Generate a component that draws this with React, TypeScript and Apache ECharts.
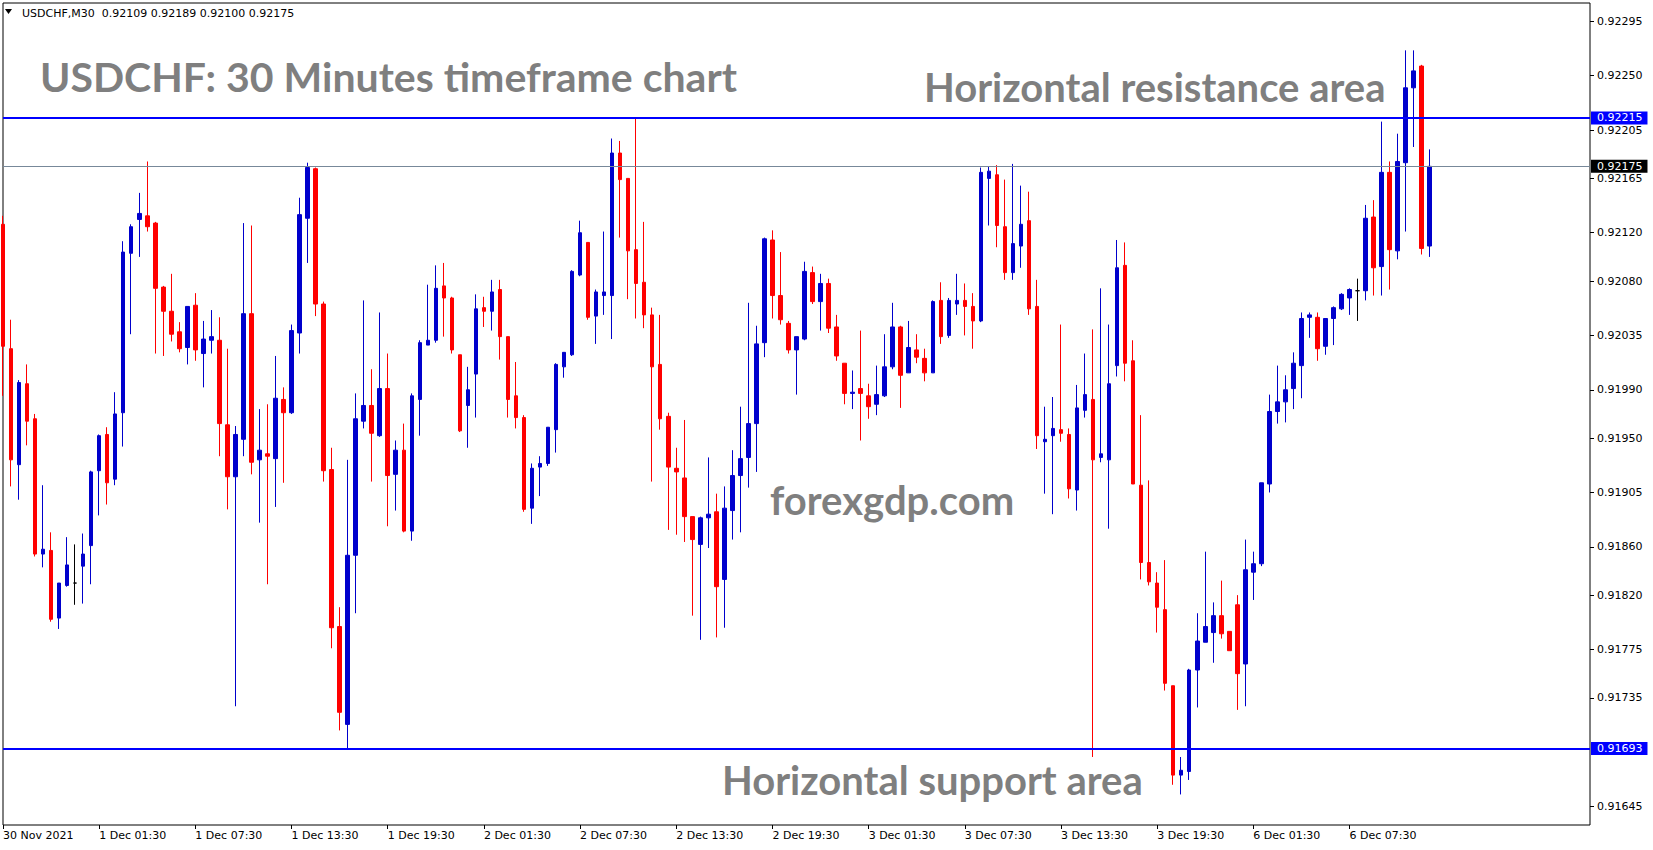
import React, { useEffect, useRef } from 'react';
import * as echarts from 'echarts';

// ---- axis labels ----
const xTickLabels = [
  '30 Nov 2021', '1 Dec 01:30', '1 Dec 07:30', '1 Dec 13:30', '1 Dec 19:30',
  '2 Dec 01:30', '2 Dec 07:30', '2 Dec 13:30', '2 Dec 19:30', '3 Dec 01:30',
  '3 Dec 07:30', '3 Dec 13:30', '3 Dec 19:30', '6 Dec 01:30', '6 Dec 07:30',
];
const yTickValues = [
  0.92295, 0.9225, 0.92205, 0.92165, 0.9212, 0.9208, 0.92035, 0.9199,
  0.9195, 0.91905, 0.9186, 0.9182, 0.91775, 0.91735, 0.91645,
];

// ---- price levels ----
const resistanceLevel = 0.92215;
const supportLevel = 0.91693;
const bidPrice = 0.92175;

// ---- OHLC (M30 bars) ----
const opens = [
  0.92127, 0.92024, 0.91928, 0.91995, 0.91966, 0.91854, 0.91857, 0.91801, 0.91828, 0.9183,
  0.91844, 0.91861, 0.91923, 0.91953, 0.91916, 0.91971, 0.92103, 0.92131, 0.92134, 0.92128,
  0.92075, 0.92055, 0.92038, 0.92025, 0.9206, 0.9202, 0.92031, 0.92031, 0.91961, 0.91918,
  0.91949, 0.92053, 0.91932, 0.91937, 0.91933, 0.91982, 0.91971, 0.92037, 0.92132, 0.92173,
  0.92061, 0.91924, 0.91794, 0.91713, 0.91853, 0.91964, 0.91977, 0.91952, 0.91991, 0.9192,
  0.9194, 0.91873, 0.91982, 0.92027, 0.92031, 0.92076, 0.92066, 0.92019, 0.91977, 0.92003,
  0.92058, 0.92055, 0.92073, 0.92034, 0.91985, 0.91967, 0.91892, 0.91926, 0.91929, 0.91957,
  0.92009, 0.92019, 0.92085, 0.92112, 0.92051, 0.92068, 0.92068, 0.92186, 0.92165, 0.92106,
  0.92079, 0.92052, 0.92011, 0.91968, 0.91925, 0.91917, 0.91885, 0.91862, 0.91884, 0.91889,
  0.91833, 0.9189, 0.91919, 0.91934, 0.91962, 0.92029, 0.92114, 0.92068, 0.92045, 0.92023,
  0.92032, 0.92087, 0.92063, 0.92078, 0.92042, 0.92012, 0.91987, 0.91991, 0.91985, 0.91978,
  0.91985, 0.92009, 0.92042, 0.92004, 0.92023, 0.92016, 0.92004, 0.92064, 0.92035, 0.92061,
  0.92064, 0.92059, 0.92047, 0.92165, 0.92168, 0.92125, 0.92087, 0.92109, 0.9213, 0.92059,
  0.91947, 0.91952, 0.91957, 0.91953, 0.91907, 0.91973, 0.91982, 0.91934, 0.91932, 0.9201,
  0.92093, 0.92014, 0.91911, 0.91847, 0.9183, 0.91808, 0.91745, 0.91671, 0.91674, 0.91758,
  0.91781, 0.91789, 0.91803, 0.9179, 0.91812, 0.91763, 0.91839, 0.91846, 0.91912, 0.91972,
  0.9198, 0.91991, 0.9201, 0.9205, 0.9205, 0.92026, 0.92049, 0.92057, 0.92066, 0.92072,
  0.92072, 0.92133, 0.92092, 0.9217, 0.92105, 0.92178, 0.9224, 0.92258, 0.92109,
];
const highs = [
  0.92134, 0.92048, 0.91998, 0.92011, 0.9197, 0.91911, 0.91872, 0.9183, 0.91868, 0.91862,
  0.91871, 0.91923, 0.91953, 0.91959, 0.91988, 0.92113, 0.92127, 0.92153, 0.92179, 0.92129,
  0.92076, 0.92086, 0.92046, 0.92059, 0.9207, 0.92047, 0.92056, 0.9205, 0.92024, 0.9196,
  0.92128, 0.92126, 0.91974, 0.91978, 0.92018, 0.91992, 0.92044, 0.92149, 0.92178, 0.92174,
  0.92063, 0.91942, 0.9181, 0.91932, 0.91987, 0.92064, 0.92007, 0.92054, 0.9202, 0.91948,
  0.91962, 0.91987, 0.92031, 0.92077, 0.92093, 0.92095, 0.92067, 0.92019, 0.92009, 0.92069,
  0.92067, 0.92081, 0.92081, 0.92034, 0.92013, 0.91969, 0.91929, 0.91935, 0.91959, 0.92012,
  0.92021, 0.92089, 0.9213, 0.92112, 0.92073, 0.92121, 0.92198, 0.92196, 0.92165, 0.92215,
  0.92129, 0.92058, 0.92052, 0.91971, 0.91942, 0.91965, 0.91885, 0.91885, 0.91934, 0.91904,
  0.9191, 0.9194, 0.91976, 0.92062, 0.92043, 0.92116, 0.92122, 0.92104, 0.92047, 0.92034,
  0.92096, 0.92092, 0.92086, 0.92082, 0.92052, 0.92012, 0.92006, 0.92039, 0.91995, 0.9201,
  0.92036, 0.92062, 0.92043, 0.92047, 0.92036, 0.92024, 0.92064, 0.92079, 0.92066, 0.92086,
  0.92078, 0.9207, 0.92174, 0.92175, 0.92176, 0.92164, 0.92177, 0.92159, 0.92154, 0.92081,
  0.91976, 0.91984, 0.92044, 0.91958, 0.91994, 0.9202, 0.9204, 0.92074, 0.92044, 0.92114,
  0.92112, 0.92031, 0.91969, 0.91915, 0.91839, 0.91849, 0.91745, 0.91686, 0.91759, 0.91805,
  0.91856, 0.91814, 0.91832, 0.9179, 0.9182, 0.91866, 0.91856, 0.91913, 0.91986, 0.9201,
  0.92002, 0.92021, 0.92054, 0.92054, 0.92054, 0.92049, 0.92059, 0.9207, 0.92074, 0.92082,
  0.92143, 0.92147, 0.92212, 0.92179, 0.92202, 0.92271, 0.92271, 0.92259, 0.92189,
];
const lows = [
  0.91985, 0.9191, 0.91899, 0.91944, 0.91852, 0.91843, 0.91798, 0.91792, 0.91827, 0.91812,
  0.91813, 0.91829, 0.91886, 0.91895, 0.91911, 0.91943, 0.92036, 0.921, 0.92121, 0.9202,
  0.92018, 0.9203, 0.92021, 0.92011, 0.92014, 0.91992, 0.9202, 0.91935, 0.91891, 0.91728,
  0.91935, 0.9192, 0.9188, 0.91829, 0.91893, 0.91913, 0.9197, 0.9202, 0.92095, 0.92051,
  0.91914, 0.91776, 0.91708, 0.91693, 0.91805, 0.91958, 0.91914, 0.91951, 0.91877, 0.9189,
  0.91872, 0.91865, 0.91952, 0.92027, 0.92029, 0.92034, 0.9202, 0.91955, 0.91942, 0.91967,
  0.92042, 0.92039, 0.92015, 0.91967, 0.91958, 0.91889, 0.91879, 0.91902, 0.91927, 0.91938,
  0.92, 0.92018, 0.92084, 0.92048, 0.92028, 0.92052, 0.92032, 0.92116, 0.92065, 0.92049,
  0.92041, 0.91914, 0.91957, 0.91874, 0.9187, 0.91864, 0.91803, 0.91783, 0.91859, 0.91785,
  0.91793, 0.91866, 0.91872, 0.91909, 0.91922, 0.92017, 0.92049, 0.92044, 0.9202, 0.91986,
  0.92031, 0.92061, 0.92039, 0.92037, 0.92014, 0.91978, 0.91974, 0.91948, 0.91966, 0.91969,
  0.91984, 0.92007, 0.91975, 0.92004, 0.92012, 0.91997, 0.92004, 0.92028, 0.92033, 0.92052,
  0.92035, 0.92024, 0.92046, 0.92126, 0.92108, 0.92081, 0.92081, 0.92091, 0.92052, 0.91941,
  0.91904, 0.91887, 0.91947, 0.919, 0.9189, 0.91967, 0.91686, 0.9193, 0.91875, 0.92001,
  0.91997, 0.91912, 0.91833, 0.91828, 0.91789, 0.91741, 0.91663, 0.91655, 0.91667, 0.91727,
  0.91781, 0.91764, 0.91784, 0.91774, 0.91725, 0.91728, 0.91816, 0.91844, 0.91905, 0.91962,
  0.91963, 0.91974, 0.91983, 0.92033, 0.92014, 0.92019, 0.92027, 0.92056, 0.92052, 0.92047,
  0.92064, 0.92068, 0.92068, 0.92073, 0.92098, 0.92121, 0.92191, 0.92102, 0.921,
];
const closes = [
  0.92026, 0.91932, 0.91996, 0.91964, 0.91854, 0.91858, 0.918, 0.9183, 0.91845, 0.9183,
  0.91854, 0.91922, 0.91952, 0.91913, 0.9197, 0.92104, 0.92125, 0.92136, 0.92125, 0.92074,
  0.92055, 0.92036, 0.92024, 0.92059, 0.92023, 0.92032, 0.92034, 0.91962, 0.91918, 0.91953,
  0.92053, 0.9193, 0.9194, 0.91935, 0.91983, 0.91971, 0.92039, 0.92135, 0.92174, 0.92061,
  0.91923, 0.91793, 0.91723, 0.91853, 0.91966, 0.91977, 0.91954, 0.91991, 0.91919, 0.9194,
  0.91873, 0.91985, 0.92029, 0.92031, 0.92074, 0.92066, 0.92023, 0.91956, 0.9199, 0.92057,
  0.92055, 0.92071, 0.92034, 0.91982, 0.91967, 0.91891, 0.91925, 0.91929, 0.91959, 0.92011,
  0.92021, 0.92088, 0.9212, 0.9205, 0.92071, 0.92071, 0.92186, 0.92164, 0.92105, 0.92078,
  0.92052, 0.92009, 0.91966, 0.91926, 0.91922, 0.91885, 0.91866, 0.91884, 0.91887, 0.91827,
  0.91892, 0.91919, 0.91933, 0.91962, 0.92028, 0.92115, 0.92068, 0.92048, 0.92023, 0.92034,
  0.92088, 0.92063, 0.92078, 0.92041, 0.92018, 0.91987, 0.91988, 0.91987, 0.91976, 0.91986,
  0.92009, 0.92042, 0.92002, 0.92025, 0.92017, 0.92004, 0.92063, 0.92034, 0.92064, 0.92064,
  0.92059, 0.92047, 0.9217, 0.92171, 0.92126, 0.92087, 0.92111, 0.92127, 0.92057, 0.91952,
  0.91949, 0.91958, 0.91954, 0.91908, 0.91975, 0.91986, 0.91932, 0.91937, 0.91995, 0.92091,
  0.92012, 0.91912, 0.91847, 0.91831, 0.9181, 0.91747, 0.91671, 0.91675, 0.91758, 0.91782,
  0.91794, 0.91803, 0.91788, 0.91774, 0.91755, 0.91841, 0.91846, 0.91913, 0.91972, 0.9198,
  0.9199, 0.92012, 0.92049, 0.92052, 0.92024, 0.92049, 0.92058, 0.92069, 0.92073, 0.92072,
  0.92132, 0.92091, 0.9217, 0.92106, 0.92179, 0.9224, 0.92254, 0.92107, 0.92175,
];

const TOTAL_SLOTS = 199; // bars plus the empty chart shift on the right
const headerText = 'USDCHF,M30  0.92109 0.92189 0.92100 0.92175';

export default function App() {
  const ref = useRef<HTMLDivElement>(null);

  useEffect(() => {
    if (!ref.current) return;
    const chart = echarts.init(ref.current, null, { renderer: 'svg' });
    const categories = Array.from({ length: TOTAL_SLOTS }, (_, i) => String(i));
    const data = opens.map((o, i) => [o, closes[i], lows[i], highs[i]]);
    const showTick = (i: number) => i % 12 === 0 && i / 12 < xTickLabels.length;
    const grey = '#7f7f7f';
    const bigFont = 'Lato';

    chart.setOption({
      animation: false,
      backgroundColor: '#ffffff',
      grid: {
        left: 3, right: 63, top: 3, bottom: 25,
        show: true, borderColor: '#000', borderWidth: 1, backgroundColor: '#fff',
      },
      xAxis: {
        type: 'category',
        data: categories,
        boundaryGap: false,
        axisLine: { show: false },
        axisTick: {
          show: true, interval: (i: number) => showTick(i), length: 4,
          lineStyle: { color: '#000', width: 1 },
        },
        axisLabel: {
          interval: (i: number) => showTick(i),
          formatter: (_v: string, i: number) => xTickLabels[i / 12] ?? '',
          align: 'left', margin: 5, color: '#000',
          fontFamily: 'DejaVu Sans', fontSize: 11,
        },
        splitLine: { show: false },
      },
      yAxis: {
        type: 'value',
        position: 'right',
        min: 0.916297,
        max: 0.923102,
        axisLine: { show: false },
        splitLine: { show: false },
        axisTick: {
          show: true, customValues: yTickValues, length: 4,
          lineStyle: { color: '#000', width: 1 },
        },
        axisLabel: {
          customValues: yTickValues,
          formatter: (v: number) => v.toFixed(5),
          margin: 7, color: '#000', fontFamily: 'DejaVu Sans', fontSize: 11,
        },
      },
      series: [
        {
          type: 'candlestick',
          data,
          barWidth: 4,
          clip: true,
          itemStyle: {
            color: '#0000cc', color0: '#ff0000',
            borderColor: '#0000cc', borderColor0: '#ff0000',
            borderColorDoji: '#000000', borderWidth: 1,
          },
          emphasis: { disabled: true },
          markLine: {
            silent: true,
            precision: 5,
            symbol: ['none', 'none'],
            emphasis: { disabled: true },
            label: {
              show: true, position: 'end', distance: 1,
              formatter: (p: any) => Number(p.value).toFixed(5),
              fontFamily: 'DejaVu Sans', fontSize: 11, color: '#fff',
              padding: [1, 5, 0, 6], lineHeight: 12,
            },
            data: [
              {
                yAxis: resistanceLevel,
                lineStyle: { color: '#0000ff', width: 2, type: 'solid' },
                label: { backgroundColor: '#0000ff' },
              },
              {
                yAxis: bidPrice,
                lineStyle: { color: '#778899', width: 1, type: 'solid' },
                label: { backgroundColor: '#000000' },
              },
              {
                yAxis: supportLevel,
                lineStyle: { color: '#0000ff', width: 2, type: 'solid' },
                label: { backgroundColor: '#0000ff' },
              },
            ],
          },
        },
      ],
      graphic: [
        {
          type: 'polygon', z: 100,
          shape: { points: [[5, 9], [12, 9], [8.5, 14]] },
          style: { fill: '#000' },
        },
        {
          type: 'text', z: 100, x: 22, y: 13,
          style: {
            text: headerText, fill: '#000', fontFamily: 'DejaVu Sans', fontSize: 11,
            textAlign: 'left', textVerticalAlign: 'middle',
          },
        },
        {
          type: 'text', z: 100, x: 40, y: 76,
          style: {
            text: 'USDCHF: 30 Minutes timeframe chart', fill: grey,
            fontFamily: bigFont, fontWeight: 'bold', fontSize: 41,
            textAlign: 'left', textVerticalAlign: 'middle',
          },
        },
        {
          type: 'text', z: 100, x: 924, y: 87,
          style: {
            text: 'Horizontal resistance area', fill: grey,
            fontFamily: bigFont, fontWeight: 'bold', fontSize: 40,
            textAlign: 'left', textVerticalAlign: 'middle',
          },
        },
        {
          type: 'text', z: 100, x: 770, y: 500,
          style: {
            text: 'forexgdp.com', fill: grey,
            fontFamily: bigFont, fontWeight: 'bold', fontSize: 40,
            textAlign: 'left', textVerticalAlign: 'middle',
          },
        },
        {
          type: 'text', z: 100, x: 722, y: 780,
          style: {
            text: 'Horizontal support area', fill: grey,
            fontFamily: bigFont, fontWeight: 'bold', fontSize: 40,
            textAlign: 'left', textVerticalAlign: 'middle',
          },
        },
      ],
    });

    return () => chart.dispose();
  }, []);

  return (
    <div
      ref={ref}
      style={{ position: 'fixed', left: 0, top: 0, width: 1653, height: 850, background: '#fff' }}
    />
  );
}
